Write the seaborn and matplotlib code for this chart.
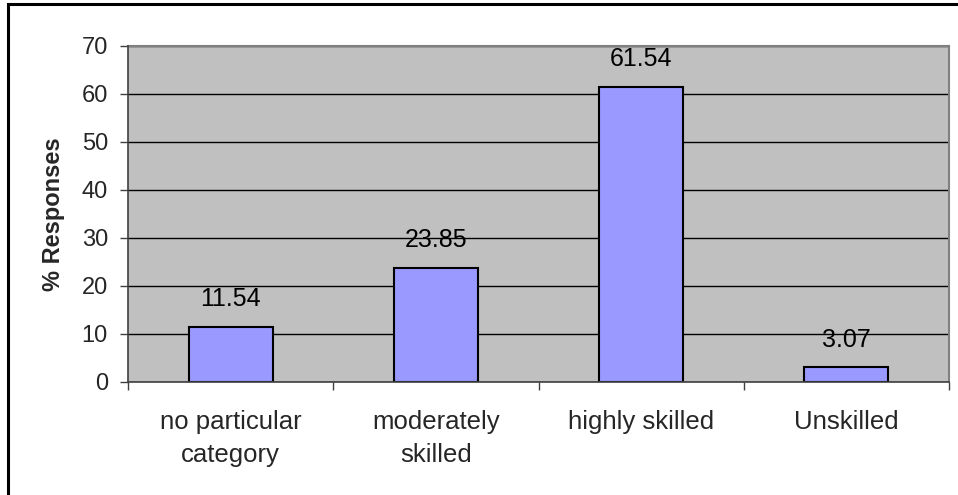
import matplotlib
matplotlib.use("Agg")
import matplotlib.pyplot as plt
from matplotlib.patches import Rectangle
import seaborn as sns
import pandas as pd

categories = ["no particular\ncategory", "moderately\nskilled", "highly skilled", "Unskilled"]
responses = [11.54, 23.85, 61.54, 3.07]
y_ticks = [0, 10, 20, 30, 40, 50, 60, 70]

df = pd.DataFrame({"category": categories, "pct": responses})

sns.set_theme(style="white")
plt.rcParams["font.family"] = ["Liberation Sans", "DejaVu Sans"]

fig = plt.figure(figsize=(9.58, 4.95), dpi=100)
ax = fig.add_axes([128 / 958, 1 - 382 / 495, (949 - 128) / 958, (382 - 46) / 495])

ax.set_facecolor("#C0C0C0")
sns.barplot(data=df, x="category", y="pct", ax=ax, color="#9999FF",
            saturation=1, width=0.41, edgecolor="black", linewidth=1.5, zorder=3)

ax.set_xlim(-0.5, len(categories) - 0.5)
ax.set_ylim(0, 70)
ax.set_yticks(y_ticks)
ax.yaxis.grid(True, color="black", linewidth=1.0, zorder=1)
ax.set_axisbelow(True)

for i, v in enumerate(responses):
    ax.annotate(f"{v:.2f}", (i, v), xytext=(0, 14.5), textcoords="offset points",
                ha="center", va="baseline", fontsize=18, color="black", zorder=5)

# category labels centered, tick marks at category boundaries
ax.set_xticks(range(len(categories)))
ax.set_xticklabels(categories, fontsize=18.5, linespacing=1.5)
ax.tick_params(axis="x", length=0, pad=20)
ax.set_xticks([i - 0.5 for i in range(len(categories) + 1)], minor=True)
ax.tick_params(axis="x", which="minor", length=6, width=1, color="#404040", direction="out", bottom=True)
ax.tick_params(axis="y", length=6, width=1, color="#404040", direction="out", left=True,
               labelsize=17, pad=8.5)

ax.set_xlabel("")
ax.set_ylabel("% Responses", fontsize=17, fontweight="bold", labelpad=12)

for side in ["top", "right"]:
    ax.spines[side].set_color("#808080")
    ax.spines[side].set_linewidth(1.5)
for side in ["left", "bottom"]:
    ax.spines[side].set_color("#404040")
    ax.spines[side].set_linewidth(1.2)
    ax.spines[side].set_zorder(4)

# chart frame
fig.patches.append(Rectangle((8 / 958, -0.1), 1.2, 1.1 - 4 / 495, transform=fig.transFigure,
                             fill=False, edgecolor="black", linewidth=2.2))

fig.savefig("out.png", dpi=100)
